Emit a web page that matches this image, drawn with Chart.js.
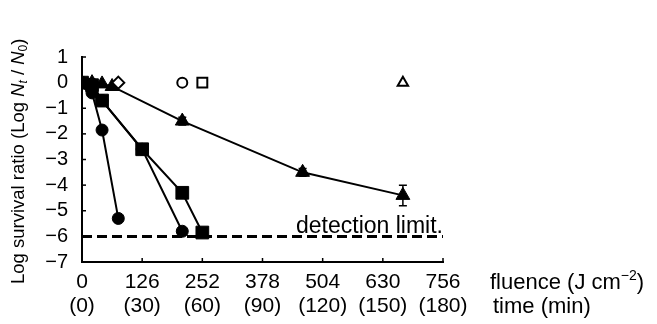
<!DOCTYPE html>
<html>
<head>
<meta charset="utf-8">
<script src="https://cdn.jsdelivr.net/npm/chart.js@4.4.1/dist/chart.umd.min.js"></script>
<style>
  html, body { margin: 0; padding: 0; background: #fff; }
</style>
</head>
<body>
<canvas id="graficaSurv" width="657" height="324"></canvas>
<script>
// --- datos ---
const fluenceTicks = [0, 126, 252, 378, 504, 630, 756];   // J cm-2
const timeTicks = [0, 30, 60, 90, 120, 150, 180];          // min

// serie rapida (circulos llenos)
const fastX = [0, 10.5, 21, 42, 76];
const fastY = [0, -0.05, -0.4, -1.85, -5.3];
// circulos llenos
const circX = [0, 21, 42, 126, 210];
const circY = [0, -0.05, -0.7, -2.6, -5.8];
// cuadrados llenos
const sqX = [0, 21, 42, 126, 210, 252];
const sqY = [0, -0.1, -0.7, -2.6, -4.3, -5.85];
// triangulos llenos (con barras de error)
const triX = [0, 21, 42, 63, 210, 462, 672];
const triY = [0, 0, -0.05, -0.15, -1.5, -3.5, -4.4];
const triErr = [0, 0, 0, 0, 0.15, 0.15, 0.4];
// controles (simbolos vacios)
const ctrlDiamondX = [76];
const ctrlCircleX = [210];
const ctrlSquareX = [252];
const ctrlTriX = [672];
const ctrlY = [0];
// limite de deteccion
const detectionLimit = -6;

const FONT = "'Liberation Sans', Arial, Helvetica, sans-serif";

function pts(xs, ys) {
  return xs.map((x, i) => ({ x: x, y: ys[Math.min(i, ys.length - 1)] }));
}

function serie(data, style, radius) {
  return {
    data: data,
    showLine: true,
    borderColor: '#000',
    borderWidth: 2,
    pointStyle: style,
    pointRadius: radius,
    pointBackgroundColor: '#000',
    pointBorderColor: '#000',
    pointBorderWidth: 1,
    tension: 0
  };
}

function control(data, style, radius) {
  return {
    data: data,
    showLine: false,
    pointStyle: style,
    pointRadius: radius,
    pointBackgroundColor: '#fff',
    pointBorderColor: '#000',
    pointBorderWidth: 2
  };
}

function richText(ctx, x, y, parts) {
  let cx = x;
  parts.forEach(p => {
    ctx.font = p.font;
    ctx.fillText(p.t, cx, y + (p.dy || 0));
    cx += ctx.measureText(p.t).width;
  });
}

// --- plugin: ticks interiores, barras de error y textos ---
const extras = {
  id: 'extras',
  afterDatasetsDraw(chart) {
    const ctx = chart.ctx;
    const xs = chart.scales.x, ys = chart.scales.y;
    const area = chart.chartArea;
    ctx.save();
    ctx.strokeStyle = '#000';
    ctx.lineWidth = 1.5;
    // barras de error
    triX.forEach((x, i) => {
      if (!triErr[i]) return;
      const px = xs.getPixelForValue(x);
      const top = ys.getPixelForValue(triY[i] + triErr[i]);
      const bot = ys.getPixelForValue(triY[i] - triErr[i]);
      ctx.beginPath();
      ctx.moveTo(px, top); ctx.lineTo(px, bot);
      ctx.moveTo(px - 4, top); ctx.lineTo(px + 4, top);
      ctx.moveTo(px - 4, bot); ctx.lineTo(px + 4, bot);
      ctx.stroke();
    });
    // ticks hacia dentro
    for (let v = -7; v <= 1; v++) {
      const py = ys.getPixelForValue(v);
      ctx.beginPath(); ctx.moveTo(area.left, py); ctx.lineTo(area.left + 4, py); ctx.stroke();
    }
    fluenceTicks.forEach(v => {
      const px = xs.getPixelForValue(v);
      ctx.beginPath(); ctx.moveTo(px, area.bottom); ctx.lineTo(px, area.bottom - 4); ctx.stroke();
    });

    ctx.fillStyle = '#000';
    ctx.textBaseline = 'alphabetic';
    // "detection limit."
    ctx.font = '23px ' + FONT;
    ctx.textAlign = 'right';
    ctx.fillText('detection limit.', area.right, ys.getPixelForValue(detectionLimit) - 3);

    ctx.textAlign = 'left';
    ctx.textBaseline = 'middle';
    const f = '22px ' + FONT;
    const sup = '14px ' + FONT;
    richText(ctx, 490, 283, [
      { t: 'fluence (J cm', font: f },
      { t: '\u22122', font: sup, dy: -7 },
      { t: ')', font: f }
    ]);
    richText(ctx, 493, 307, [{ t: 'time (min)', font: f }]);

    // titulo eje y
    ctx.translate(19, 284);
    ctx.rotate(-Math.PI / 2);
    const tf = '18.5px ' + FONT;
    const ti = 'italic 18.5px ' + FONT;
    const sub = '12px ' + FONT;
    const subi = 'italic 12px ' + FONT;
    richText(ctx, 0, 0, [
      { t: 'Log survival ratio (Log ', font: tf },
      { t: 'N', font: ti },
      { t: 't', font: subi, dy: 5 },
      { t: ' / ', font: tf },
      { t: 'N', font: ti },
      { t: '0', font: sub, dy: 5 },
      { t: ')', font: tf }
    ]);
    ctx.restore();
  }
};

const datasets = [
  control(pts(ctrlDiamondX, ctrlY), 'rectRot', 6),
  control(pts(ctrlCircleX, ctrlY), 'circle', 5),
  control(pts(ctrlSquareX, ctrlY), 'rect', 7),
  control(pts(ctrlTriX, ctrlY), 'triangle', 6),
  serie(pts(fastX, fastY), 'circle', 6),
  serie(pts(circX, circY), 'circle', 6),
  serie(pts(sqX, sqY), 'rect', 9),
  serie(pts(triX, triY), 'triangle', 8),
  {
    data: [{ x: 0, y: detectionLimit }, { x: 756, y: detectionLimit }],
    showLine: true,
    borderColor: '#000',
    borderWidth: 3,
    borderDash: [10, 5],
    pointRadius: 0
  }
];

const ctx = document.getElementById('graficaSurv').getContext('2d');
new Chart(ctx, {
  type: 'scatter',
  data: { datasets: datasets },
  plugins: [extras],
  options: {
    responsive: false,
    animation: false,
    layout: { padding: { left: 0, top: 57, right: 214, bottom: 0 } },
    plugins: { legend: { display: false }, tooltip: { enabled: false } },
    scales: {
      x: {
        type: 'linear',
        min: 0, max: 756,
        afterBuildTicks: s => { s.ticks = fluenceTicks.map(v => ({ value: v })); },
        afterFit: s => { s.height = 62; },
        grid: { drawOnChartArea: false, drawTicks: false },
        border: { display: true, color: '#000', width: 2 },
        ticks: {
          padding: 8,
          color: '#000',
          maxRotation: 0,
          autoSkip: false,
          font: { family: FONT, size: 21, lineHeight: 1.15 },
          callback: (v, i) => [String(fluenceTicks[i]), '(' + timeTicks[i] + ')']
        }
      },
      y: {
        min: -7, max: 1,
        afterFit: s => { s.width = 82; },
        grid: { drawOnChartArea: false, drawTicks: false },
        border: { display: true, color: '#000', width: 2 },
        ticks: {
          stepSize: 1,
          autoSkip: false,
          padding: 14,
          color: '#000',
          font: { family: FONT, size: 20 },
          callback: v => v < 0 ? '\u2212' + Math.abs(v) : String(v)
        }
      }
    }
  }
});
</script>
</body>
</html>
